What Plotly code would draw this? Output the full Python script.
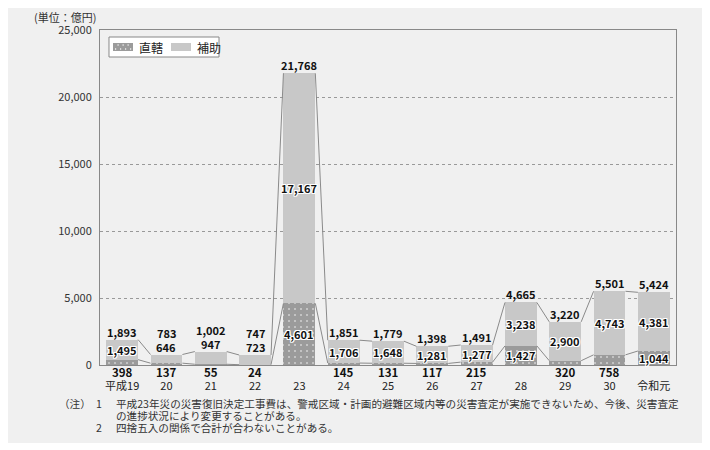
import plotly.graph_objects as go

# 災害復旧事業費（単位：億円）
categories = ["平成19", "20", "21", "22", "23", "24", "25", "26", "27", "28", "29", "30", "令和元"]
chokkatsu = [398, 137, 55, 24, 4601, 145, 131, 117, 215, 1427, 320, 758, 1044]
hojo = [1495, 646, 947, 723, 17167, 1706, 1648, 1281, 1277, 3238, 2900, 4743, 4381]
totals = [1893, 783, 1002, 747, 21768, 1851, 1779, 1398, 1491, 4665, 3220, 5501, 5424]
y_ticks = [0, 5000, 10000, 15000, 20000, 25000]

FONT = "Noto Sans CJK JP"
BW = 0.72
DOT_GRAY = "#9b9b9b"
LIGHT_GRAY = "#c8c8c8"
x = list(range(len(categories)))
halo = ", ".join(f"{dx}px {dy}px 0 #fff" for dx in (-1, 0, 1) for dy in (-1, 0, 1) if dx or dy)

fig = go.Figure()
fig.add_trace(go.Bar(
    x=x, y=chokkatsu, name="直轄", width=BW,
    marker=dict(color=DOT_GRAY, line=dict(width=0),
                pattern=dict(shape=".", fgcolor="#ffffff", bgcolor=DOT_GRAY, size=6, solidity=0.1)),
))
fig.add_trace(go.Bar(
    x=x, y=hojo, name="補助", width=BW,
    marker=dict(color=LIGHT_GRAY, line=dict(width=0)),
))

# 系列線（棒の間をつなぐ線）
def series_line(vals):
    xs, ys = [], []
    for i in range(len(vals) - 1):
        xs += [i + BW / 2, i + 1 - BW / 2, None]
        ys += [vals[i], vals[i + 1], None]
    return xs, ys

for vals in (chokkatsu, totals):
    lx, ly = series_line(vals)
    fig.add_trace(go.Scatter(x=lx, y=ly, mode="lines", line=dict(color="#8a8a8a", width=1),
                             showlegend=False, hoverinfo="skip"))

ann = []
lab_font = dict(family=FONT, size=11, color="#111")
for i in x:
    c, h, t = chokkatsu[i], hojo[i], totals[i]
    # 直轄
    if c >= 1000:
        ann.append(dict(x=i, y=c / 2, text=f"<b>{c:,}</b>", showarrow=False,
                        font=dict(lab_font, shadow=halo)))
    else:
        ann.append(dict(x=i, y=0, yshift=-7, yanchor="middle", text=f"<b>{c:,}</b>", showarrow=False,
                        borderpad=0, font=dict(family=FONT, size=11.5, color="#111")))
    # 補助
    if h >= 1000:
        ann.append(dict(x=i, y=c + h / 2, text=f"<b>{h:,}</b>", showarrow=False,
                        font=dict(lab_font, shadow=halo)))
        ann.append(dict(x=i, y=t, yshift=8, text=f"<b>{t:,}</b>", showarrow=False, font=lab_font))
    else:
        ann.append(dict(x=i, y=t, yshift=8, text=f"<b>{h:,}</b>", showarrow=False,
                        borderpad=0, font=lab_font))
        ann.append(dict(x=i, y=t, yshift=22, text=f"<b>{t:,}</b>", showarrow=False,
                        borderpad=0, font=lab_font))

ann.append(dict(xref="paper", yref="paper", x=-0.005, y=1.04, xanchor="right", yanchor="middle",
                text="(単位：億円)", showarrow=False, borderpad=0,
                font=dict(family=FONT, size=11, color="#333")))

note_font = dict(family=FONT, size=10.6, color="#333")
note_rows = [
    (-0.073, -0.116, "（注）"),
    (-0.009, -0.116, "1"),
    (0.026, -0.116, "平成23年災の災害復旧決定工事費は、警戒区域・計画的避難区域内等の災害査定が実施できないため、今後、災害査定"),
    (0.026, -0.152, "の進捗状況により変更することがある。"),
    (-0.009, -0.188, "2"),
    (0.026, -0.188, "四捨五入の関係で合計が合わないことがある。"),
]
for nx, ny, txt in note_rows:
    ann.append(dict(xref="paper", yref="paper", x=nx, y=ny, xanchor="left", yanchor="middle",
                    text=txt, showarrow=False, borderpad=0, font=note_font))

# 背景パネルと凡例（手描き）
shapes = [dict(type="rect", xref="paper", yref="paper", x0=-0.167, x1=1.05, y0=-0.233, y1=1.075,
               fillcolor="#f0f0f0", line=dict(width=0), layer="below")]
shapes.append(dict(type="rect", xref="paper", yref="paper", x0=0.0156, x1=0.2066, y0=0.9194, y1=0.9791,
                   fillcolor="#ffffff", line=dict(color="#888", width=1)))
sw_y0, sw_y1 = 0.9373, 0.9612
shapes.append(dict(type="rect", xref="paper", yref="paper", x0=0.0226, x1=0.0573, y0=sw_y0, y1=sw_y1,
                   fillcolor=DOT_GRAY, line=dict(width=0)))
for k in range(4):
    for r in range(2):
        cx = 0.0226 + 0.0045 + k * 0.0087 + (0.0043 if r else 0)
        cy = sw_y0 + 0.006 + r * 0.012
        if cx < 0.0565:
            shapes.append(dict(type="circle", xref="paper", yref="paper",
                               x0=cx - 0.0012, x1=cx + 0.0012, y0=cy - 0.002, y1=cy + 0.002,
                               fillcolor="#ffffff", line=dict(width=0)))
shapes.append(dict(type="rect", xref="paper", yref="paper", x0=0.1233, x1=0.1580, y0=sw_y0, y1=sw_y1,
                   fillcolor=LIGHT_GRAY, line=dict(width=0)))
leg_font = dict(family=FONT, size=12, color="#222")
ann.append(dict(xref="paper", yref="paper", x=0.0642, y=0.949, xanchor="left", yanchor="middle",
                text="直轄", showarrow=False, font=leg_font))
ann.append(dict(xref="paper", yref="paper", x=0.1649, y=0.949, xanchor="left", yanchor="middle",
                text="補助", showarrow=False, font=leg_font))

fig.update_layout(
    width=710, height=450,
    margin=dict(l=92, r=42, t=22, b=93),
    barmode="stack",
    paper_bgcolor="#ffffff",
    plot_bgcolor="#ffffff",
    font=dict(family=FONT, size=11, color="#333"),
    annotations=ann,
    shapes=shapes,
    showlegend=False,
)
fig.update_xaxes(
    range=[-0.5, len(categories) - 0.5], tickmode="array", tickvals=x, ticktext=categories,
    showline=True, mirror=True, linecolor="#888", linewidth=1, showgrid=False, ticks="",
    tickfont=dict(family=FONT, size=11, color="#222"), ticklabelstandoff=11,
)
fig.update_yaxes(
    range=[0, 25000], tickmode="array", tickvals=y_ticks, tickformat=",d",
    showline=True, mirror=True, linecolor="#888", linewidth=1,
    showgrid=True, gridcolor="#999", griddash="dot", gridwidth=1, zeroline=False,
    tickfont=dict(family=FONT, size=11, color="#333"), ticks="", ticklabelstandoff=5,
)

fig.write_html("out.html")
